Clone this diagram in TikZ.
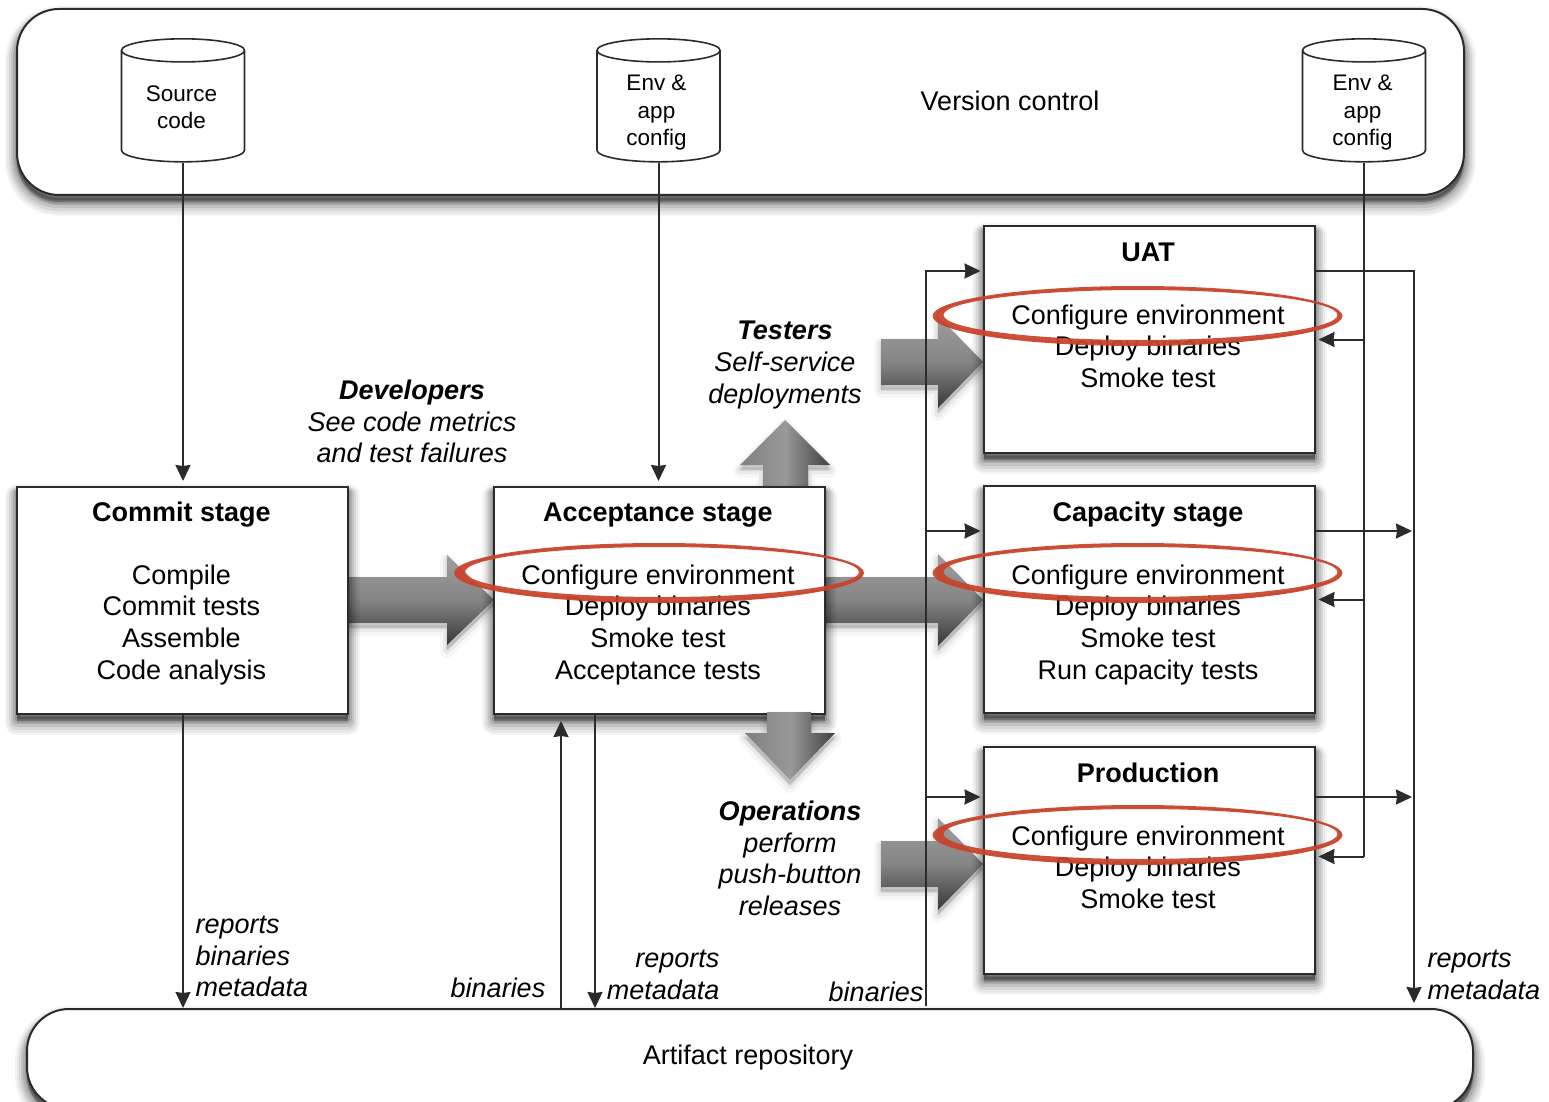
\documentclass[tikz,border=0pt]{standalone}
\usepackage{fontspec}
\setmainfont{Liberation Sans}
\usetikzlibrary{arrows.meta,shapes.geometric,calc}
\definecolor{ringred}{HTML}{C8432B}
\definecolor{inkline}{HTML}{2B2B2B}
\tikzset{
  softshadow/.style={
    preaction={draw=black,fill=black,opacity=.04,line width=24pt,line join=round,transform canvas={yshift=-9pt}},
    preaction={draw=black,fill=black,opacity=.05,line width=20pt,line join=round,transform canvas={yshift=-9pt}},
    preaction={draw=black,fill=black,opacity=.07,line width=16pt,line join=round,transform canvas={yshift=-8pt}},
    preaction={draw=black,fill=black,opacity=.09,line width=12pt,line join=round,transform canvas={yshift=-7pt}},
    preaction={draw=black,fill=black,opacity=.11,line width=8pt,line join=round,transform canvas={yshift=-6pt}},
    preaction={draw=black,fill=black,opacity=.14,line width=4pt,line join=round,transform canvas={yshift=-5pt}}},
  lightshadow/.style={
    preaction={draw=black,fill=black,opacity=.03,line width=14pt,line join=round,transform canvas={yshift=-6pt}},
    preaction={draw=black,fill=black,opacity=.05,line width=8pt,line join=round,transform canvas={yshift=-5pt}},
    preaction={draw=black,fill=black,opacity=.07,line width=3pt,line join=round,transform canvas={yshift=-4pt}}},
  stagebox/.style={draw=inkline,line width=2pt,fill=white,softshadow,minimum width=331pt,minimum height=227pt},
  stagetext/.style={anchor=north,align=center,font=\fontsize{27}{31.6}\selectfont},
  bigband/.style={draw=inkline,line width=2pt,fill=white,softshadow,rounded corners=42pt},
  dbcyl/.style={cylinder,shape border rotate=90,aspect=.35,draw=inkline,line width=1.6pt,fill=white,minimum width=123pt,minimum height=123pt,inner sep=0pt,text width=66pt,text height=35pt,text depth=30pt},
  dbtext/.style={align=center,font=\fontsize{22.5}{27.5}\selectfont},
  flow/.style={draw=inkline,line width=2pt,-{Stealth[length=16pt,width=15pt,inset=1pt]}},
  plainflow/.style={draw=inkline,line width=2pt},
  blockright/.style={lightshadow,top color=black!38,bottom color=black!78,middle color=black!48},
  blockvert/.style={lightshadow,left color=black!50,right color=black!75,middle color=black!40},
  note/.style={align=center,font=\fontsize{27}{31.6}\selectfont\itshape},
  noteleft/.style={note,align=left},
  noteright/.style={note,align=right},
}
\begin{document}
\begin{tikzpicture}[x=1pt,y=-1pt]
\useasboundingbox (0,0) rectangle (1549,1102);
\fill[white] (0,0) rectangle (1549,1102);
% bands
\node[bigband,minimum width=1447pt,minimum height=186pt] (vcs) at (740.5,102) {};
\node[bigband,minimum width=1446pt,minimum height=100pt] (artifact) at (750,1059) {};
\node[font=\fontsize{27}{31}\selectfont] (vcslabel) at (1010,101) {Version control};
\node[font=\fontsize{27}{31}\selectfont] (artlabel) at (748,1058) {Artifact repository};
% repositories
\node[dbcyl] (source) at (183,106.5) {};
\node[dbcyl] (envmid) at (658.5,106.5) {};
\node[dbcyl] (envright) at (1364,106.5) {};
\node[dbtext] (sourcetext) at (181.5,107.5) {Source\\code};
\node[dbtext] (envmidtext) at (656.5,113) {Env \&\\app\\config};
\node[dbtext] (envrighttext) at (1362.5,113) {Env \&\\app\\config};
% binaries bus goes under the big arrows
\coordinate (busfoot) at (926,1006);
\coordinate (bustop) at (926,271);
\draw[plainflow] (busfoot) -- (bustop);
% big arrows
\foreach \xa/\yc in {826/600,881/362,881/864}
  \path[blockright] (\xa,\yc-23) -- (938,\yc-23) -- (938,\yc-46) -- (983,\yc) -- (938,\yc+46) -- (938,\yc+23) -- (\xa,\yc+23) -- cycle;
\path[blockright] (349,577) -- (447,577) -- (447,555) -- (494,600) -- (447,645) -- (447,623) -- (349,623) -- cycle;
\path[blockvert] (763,490) -- (763,465) -- (740,465) -- (785,420) -- (830,465) -- (808,465) -- (808,490) -- cycle;
% stages
\node[stagebox] (commit) at (182.5,600.5) {};
\node[stagebox] (accept) at (659.5,600.5) {};
\node[stagebox] (uat) at (1149,339.5) {};
\node[stagebox] (capacity) at (1149,599.5) {};
\node[stagebox] (prod) at (1149,860.5) {};
\path[blockvert] (767,712) -- (811,712) -- (811,733) -- (835,733) -- (790,780) -- (745,733) -- (767,733) -- cycle;
\node[stagetext] (committext) at ([xshift=-1,yshift=-12]commit.north) {\textbf{Commit stage}\\[31.6pt]Compile\\Commit tests\\Assemble\\Code analysis};
\node[stagetext] (accepttext) at ([xshift=-1.5,yshift=-13]accept.north) {\textbf{Acceptance stage}\\[31.6pt]Configure environment\\Deploy binaries\\Smoke test\\Acceptance tests};
\node[stagetext] (uattext) at ([xshift=-1,yshift=-14]uat.north) {\textbf{UAT}\\[31.6pt]Configure environment\\Deploy binaries\\Smoke test};
\node[stagetext] (capacitytext) at ([xshift=-1,yshift=-13]capacity.north) {\textbf{Capacity stage}\\[31.6pt]Configure environment\\Deploy binaries\\Smoke test\\Run capacity tests};
\node[stagetext] (prodtext) at ([xshift=-1,yshift=-13]prod.north) {\textbf{Production}\\[31.6pt]Configure environment\\Deploy binaries\\Smoke test};
% flows
\draw[flow,shorten >=5pt] (source.south) -- (source.south |- commit.north);
\draw[flow,shorten >=5pt] (envmid.south) -- (envmid.south |- accept.north);
\draw[flow] (commit.south -| source.south) -- (artifact.north -| source.south);
\coordinate (binfoot) at ([xshift=-98.5]accept.south |- artifact.north);
\coordinate (reportfoot) at ([xshift=-64.5]accept.south |- artifact.north);
\draw[flow,shorten >=6pt] (binfoot) -- (binfoot |- accept.south);
\draw[flow] (reportfoot |- accept.south) -- (reportfoot);
\draw[flow,shorten >=2pt] (busfoot) |- ([yshift=-46]uat.north west);
\draw[flow,shorten >=2pt] (bustop |- capacity.north west) ++(0,46) -- ([yshift=-46]capacity.north west);
\draw[flow,shorten >=2pt] (bustop |- prod.north west) ++(0,51) -- ([yshift=-51]prod.north west);
\coordinate (rightfoot) at (1414,1003);
\draw[flow] ([yshift=-46]uat.north east) -| (rightfoot);
\draw[flow,shorten >=2pt] ([yshift=-46]capacity.north east) -- ([yshift=-46]rightfoot |- capacity.north east);
\draw[flow,shorten >=2pt] ([yshift=-51]prod.north east) -- ([yshift=-51]rightfoot |- prod.north east);
\coordinate (prodfeed) at ([yshift=4]prod.east);
\draw[plainflow] (envright.south) -- (envright.south |- prodfeed);
\draw[flow,shorten >=3pt] (envright.south |- uat.east) -- (uat.east);
\draw[flow,shorten >=3pt] (envright.south |- capacity.east) -- (capacity.east);
\draw[flow,shorten >=3pt] (envright.south |- prodfeed) -- (prodfeed);
% labels
\node[note] (devlabel) at (412,421.5) {\textbf{Developers}\\See code metrics\\and test failures};
\node[note] (testlabel) at (785,365) {\textbf{Testers}\\Self-service\\deployments};
\node[note] (opslabel) at (790,858.5) {\textbf{Operations}\\perform\\push-button\\releases};
\node[noteleft,anchor=west] (leftnote) at (192,956.5) {reports\\binaries\\metadata};
\node[note] (binleft) at (498,987.5) {binaries};
\node[noteright,anchor=east] (midnote) at (723,975) {reports\\metadata};
\node[note] (binbus) at (876,992) {binaries};
\node[noteleft,anchor=west] (rightnote) at (1424,975) {reports\\metadata};
% red rings
\foreach \cx/\cy in {1137.5/316,659/573,1137.5/573,1137.5/835}{
  \fill[ringred,opacity=.92,even odd rule] (\cx,\cy) ellipse [x radius=205,y radius=30] (\cx+3,\cy-1) ellipse [x radius=197,y radius=25];
  \draw[ringred,line width=.8pt,opacity=.8] (\cx+1,\cy) ellipse [x radius=202,y radius=28];
}
\end{tikzpicture}
\end{document}
